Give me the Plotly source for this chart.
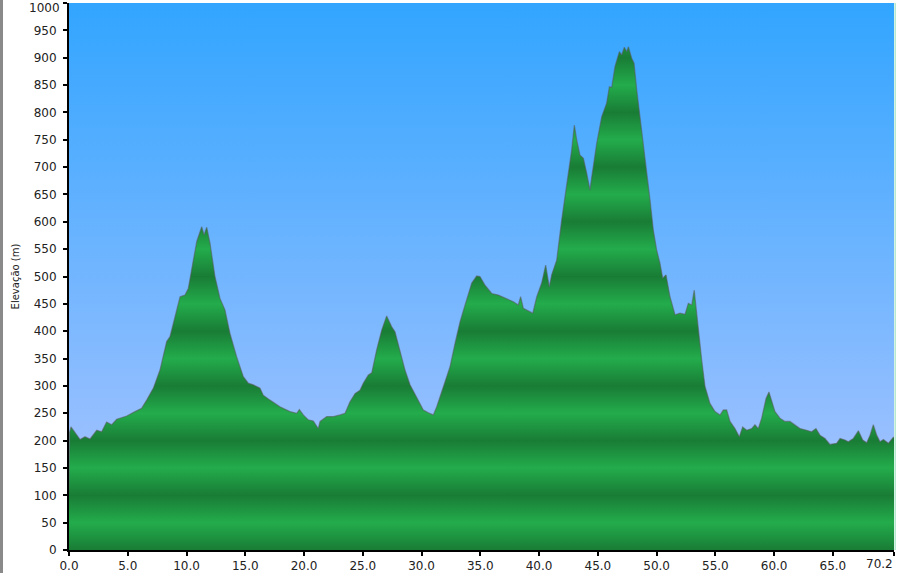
import plotly.graph_objects as go

DIST = [0.0, 0.05, 0.17, 0.37, 0.94, 1.36, 1.79, 2.36, 2.78, 3.2, 3.63, 4.06, 4.91, 5.62, 6.18,
        6.61, 7.18, 7.74, 8.31, 8.59, 9.02, 9.45, 9.87, 10.15, 10.58, 10.87, 11.29, 11.49, 11.72,
        12.0, 12.42, 12.85, 13.27, 13.7, 14.27, 14.83, 15.26, 15.68, 16.25, 16.53, 17.1, 17.81,
        17.95, 18.8, 19.38, 19.6, 19.94, 20.36, 20.79, 21.21, 21.36, 21.93, 22.49, 23.06, 23.49,
        23.91, 24.34, 24.76, 25.04, 25.47, 25.76, 26.18, 26.61, 27.03, 27.46, 27.74, 28.17, 28.59,
        29.02, 29.59, 30.15, 30.58, 31.0, 31.29, 31.85, 32.42, 32.85, 33.27, 33.7, 34.27, 34.69,
        34.97, 35.4, 35.97, 36.53, 37.24, 37.81, 38.23, 38.43, 38.66, 39.23, 39.46, 39.8, 40.22,
        40.56, 40.87, 41.07, 41.5, 41.92, 42.35, 42.77, 43.0, 43.2, 43.48, 43.77, 44.05, 44.33,
        44.48, 44.9, 45.33, 45.75, 45.98, 46.18, 46.46, 46.83, 47.03, 47.25, 47.46, 47.6, 47.88,
        48.08, 48.31, 48.6, 48.87, 49.16, 49.44, 49.72, 50.01, 50.29, 50.52, 50.8, 51.14, 51.57,
        51.99, 52.42, 52.7, 52.99, 53.2, 53.41, 53.69, 53.84, 54.12, 54.54, 54.97, 55.4, 55.68,
        55.96, 56.25, 56.67, 57.04, 57.32, 57.67, 58.09, 58.37, 58.65, 58.94, 59.31, 59.56, 59.79,
        60.07, 60.5, 60.92, 61.35, 61.77, 62.2, 62.77, 63.19, 63.56, 63.9, 64.33, 64.75, 65.32,
        65.61, 66.03, 66.31, 66.74, 67.17, 67.54, 67.88, 68.16, 68.44, 68.73, 69.01, 69.3, 69.72,
        70.14, 70.2]
ELEV = [105, 215, 225, 219, 202, 207, 203, 219, 216, 234, 229, 239, 245, 253, 259,
        274, 296, 329, 381, 390, 427, 463, 466, 478, 530, 564, 591, 576, 590,
        561, 500, 460, 439, 396, 353, 317, 305, 302, 296, 283, 274, 265,
        262, 253, 250, 257, 247, 238, 236, 222, 235, 244, 244, 247, 250,
        271, 286, 292, 305, 320, 324, 366, 402, 428, 408, 399, 366, 329,
        302, 280, 256, 251, 247, 262, 299, 335, 378, 417, 448, 488, 501,
        500, 484, 469, 466, 460, 454, 448, 463, 442, 436, 433, 463, 488,
        521, 481, 503, 530, 603, 664, 731, 777, 750, 722, 716, 689, 658,
        682, 743, 792, 817, 847, 846, 884, 911, 905, 919, 911, 920, 899,
        890, 841, 792, 743, 689, 640, 585, 548, 524, 497, 503, 463, 430,
        433, 431, 451, 448, 475, 433, 372, 347, 299, 268, 253, 247, 256,
        256, 235, 222, 207, 225, 219, 222, 229, 222, 241, 277, 289, 274,
        253, 241, 235, 235, 229, 222, 219, 216, 222, 210, 204, 193, 195,
        204, 201, 198, 204, 218, 201, 196, 210, 229, 210, 198, 202, 195,
        206, 205]

X_TICK_VALS = [0, 5, 10, 15, 20, 25, 30, 35, 40, 45, 50, 55, 60, 65, 70.2]
X_TICK_TEXT = ["0.0", "5.0", "10.0", "15.0", "20.0", "25.0", "30.0", "35.0", "40.0",
               "45.0", "50.0", "55.0", "60.0", "65.0", "70.2"]
Y_MAX = 1000
Y_TICK_STEP = 50
Y_TITLE = "Elevação (m)"

X_MAX = DIST[-1]

# banded green gradient (period 100 m)
dark = "rgb(25,124,53)"
light = "rgb(35,172,76)"
green_scale = []
n_periods = 10
for i in range(n_periods):
    a = i / n_periods
    green_scale.append([a, dark])
    green_scale.append([a + 0.5 / n_periods, light])
green_scale.append([1.0, dark])

fig = go.Figure()

# sky background gradient
fig.add_trace(go.Scatter(
    x=[0, X_MAX], y=[Y_MAX, Y_MAX], mode="lines", line=dict(width=0),
    fill="tozeroy",
    fillgradient=dict(type="vertical", start=0, stop=Y_MAX,
                      colorscale=[[0, "rgb(178,198,255)"], [1, "rgb(50,165,255)"]]),
    hoverinfo="skip", showlegend=False))

# elevation profile
fig.add_trace(go.Scatter(
    x=DIST, y=ELEV, mode="lines",
    line=dict(color="rgba(90,90,90,0.55)", width=1.2),
    fill="tozeroy",
    fillgradient=dict(type="vertical", start=0, stop=Y_MAX, colorscale=green_scale),
    showlegend=False))

font = dict(family="DejaVu Sans, Verdana, sans-serif", size=12, color="#222")

# tick labels: the first y label and last x label are placed as annotations so they
# stay inside the page like in the reference
y_tick_vals = list(range(0, Y_MAX + 1, Y_TICK_STEP))
y_tick_text = [str(v) for v in y_tick_vals]
y_tick_text[-1] = ""
x_tick_text = X_TICK_TEXT[:-1] + [""]

fig.update_layout(
    width=901, height=573,
    margin=dict(l=69, r=7, t=3, b=23, autoexpand=False),
    paper_bgcolor="white", plot_bgcolor="white",
    font=font,
    xaxis=dict(range=[0, X_MAX], tickvals=X_TICK_VALS, ticktext=x_tick_text,
               showgrid=False, zeroline=False, showline=True, linecolor="black",
               linewidth=2, ticks="outside", ticklen=4, tickwidth=2, tickcolor="black",
               tickfont=dict(size=12), layer="above traces", automargin=False),
    yaxis=dict(range=[0, Y_MAX], tickvals=y_tick_vals, ticktext=y_tick_text,
               showgrid=True, gridcolor="rgba(0,45,110,0.24)", gridwidth=1,
               zeroline=False, showline=True, linecolor="black", linewidth=2,
               ticks="outside", ticklen=4, tickwidth=2, tickcolor="black",
               tickfont=dict(size=12), layer="above traces", automargin=False,
               ticklabelstandoff=4,
               title=dict(text=Y_TITLE, font=dict(size=10), standoff=12)),
    annotations=[
        dict(text=str(y_tick_vals[-1]), xref="paper", yref="y",
             x=0, y=Y_MAX, xanchor="right", yanchor="top", xshift=-7, yshift=4,
             showarrow=False, font=dict(size=12, color="#222")),
        dict(text=X_TICK_TEXT[-1], xref="x", yref="paper",
             x=X_TICK_VALS[-1], y=0, xanchor="right", yanchor="top", xshift=1, yshift=-5,
             showarrow=False, font=dict(size=12, color="#222")),
    ],
    shapes=[
        dict(type="line", xref="paper", yref="paper",
             x0=(1.5 - 69) / 825, x1=(1.5 - 69) / 825, y0=-23 / 547, y1=1 + 3 / 547,
             line=dict(color="#8a8a8a", width=3)),
        dict(type="line", xref="paper", yref="paper",
             x0=1 + 1.2 / 825, x1=1 + 1.2 / 825, y0=0, y1=1,
             line=dict(color="rgba(170,230,200,0.9)", width=1.5)),
    ],
)

fig.write_html("out.html", config={"displayModeBar": False},
               post_script="document.body.style.margin='0';")
